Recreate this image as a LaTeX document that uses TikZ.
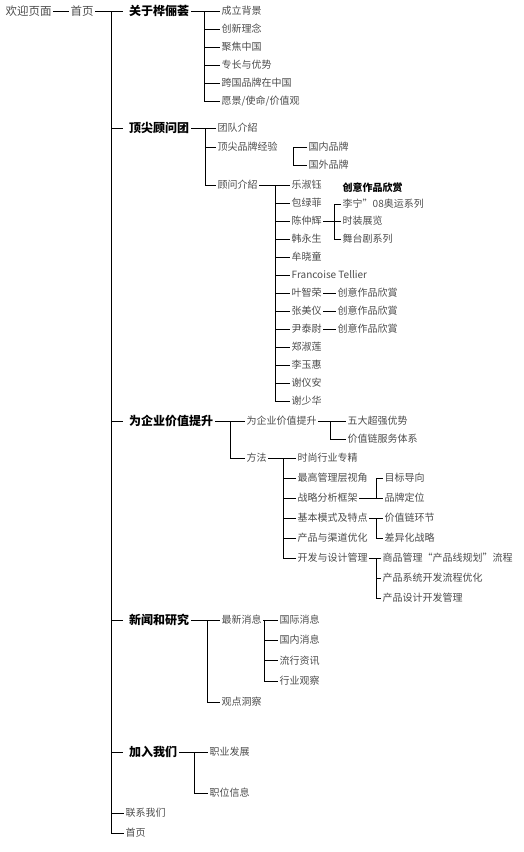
\documentclass[tikz,border=0pt]{standalone}
\usepackage{fontspec}
\setmainfont{Noto Sans CJK SC}
\begin{document}
\begin{tikzpicture}[x=1pt, y=-1pt,
    rootlbl/.style={anchor=west, inner sep=1.5pt, text=black!70, font=\fontsize{11.5}{13}\selectfont, text height=9.8pt, text depth=1.7pt},
    mainlbl/.style={anchor=west, inner xsep=2pt, inner ysep=1pt, text=black, font=\fontsize{12}{14}\selectfont\bfseries, text height=10.2pt, text depth=1.8pt},
    sublbl/.style={anchor=west, inner sep=1.5pt, text=black!70, font=\fontsize{10}{12}\selectfont, text height=8.5pt, text depth=1.5pt},
    worklbl/.style={sublbl, text=black, font=\fontsize{10}{12}\selectfont\bfseries},
    link/.style={line width=0.7pt, black},
    branch/.style={link, shorten >=4pt}
]
\useasboundingbox (0,0) rectangle (523,852);
\node[rootlbl] (welcome) at (4,11) {欢迎页面};
\node[rootlbl] (home) at (69,11) {首页};
\node[mainlbl] (about) at (127,11) {关于桦俪荟};
\node[mainlbl] (team) at (127,128) {顶尖顾问团};
\node[mainlbl] (value) at (127,421) {为企业价值提升};
\node[mainlbl] (news) at (127,620) {新闻和研究};
\node[mainlbl] (join) at (127,752) {加入我们};
\node[sublbl] (contact) at (124,813) {联系我们};
\node[sublbl] (home2) at (124,833) {首页};
\coordinate (trunk) at (111,11);
\draw[link] (welcome) -- (home);
\draw[branch] (home) -- (about);
\draw[link] (trunk) |- (home2.west);
\foreach \n in {team,value,news,join}
    \draw[branch] (trunk |- \n.west) -- (\n.west);
\draw[link] (trunk |- contact.west) -- (contact.west);

\foreach \t [count=\i from 0] in {成立背景,创新理念,聚焦中国,专长与优势,跨国品牌在中国,愿景/使命/价值观}
    \node[sublbl] (about\i) at (220,11+18*\i) {\t};
\coordinate (aboutfork) at (204,11);
\draw[link] (about) -- (about0);
\draw[link] (aboutfork) |- (about5.west);
\foreach \i in {1,...,4}
    \draw[link] (aboutfork |- about\i.west) -- (about\i.west);

\node[sublbl] (team0) at (216,128) {团队介紹};
\node[sublbl] (team1) at (216,147) {顶尖品牌经验};
\node[sublbl] (team2) at (216,185) {顾问介紹};
\coordinate (teamfork) at (205,128);
\draw[link] (team) -- (team0);
\draw[link] (teamfork) |- (team2.west);
\draw[link] (teamfork |- team1.west) -- (team1.west);

\node[sublbl] (brand0) at (307,147) {国内品牌};
\node[sublbl] (brand1) at (307,165) {国外品牌};
\coordinate (brandfork) at (293,147);
\draw[link] (brand0.west) -- (brandfork) |- (brand1.west);

\foreach \t [count=\i from 0] in {乐淑钰,包绿菲,陈仲辉,韩永生,牟晓童,Francoise Tellier,叶智荣,张美仪,尹泰尉,郑淑莲,李玉惠,谢仪安,谢少华}
    \node[sublbl] (adv\i) at (290,185+18*\i) {\t};
\coordinate (advfork) at (275,185);
\draw[link] (team2) -- (adv0);
\draw[link] (advfork) |- (adv12.west);
\foreach \i in {1,...,11}
    \draw[link] (advfork |- adv\i.west) -- (adv\i.west);

\node[worklbl] (workhead) at (341,188) {创意作品欣赏};
\node[sublbl] (works0) at (341,204) {李宁”08奥运系列};
\node[sublbl] (works1) at (341,221) {时装展览};
\node[sublbl] (works2) at (341,239) {舞台剧系列};
\coordinate (worksfork) at (334,204);
\draw[link] (works0.west) -- (worksfork) |- (works2.west);
\draw[link] (adv2) -- (works1);
\foreach \i in {6,7,8} {
    \node[sublbl] (work\i) at (336,185+18*\i) {创意作品欣賞};
    \draw[link] (adv\i) -- (work\i);
}

\node[sublbl] (val0) at (245,421) {为企业价值提升};
\node[sublbl] (val1) at (245,458) {方法};
\coordinate (valuefork) at (230,421);
\draw[link] (value) -- (val0);
\draw[link] (valuefork) |- (val1.west);

\node[sublbl] (st0) at (346,421) {五大超强优势};
\node[sublbl] (st1) at (346,439) {价值链服务体系};
\coordinate (stfork) at (330,421);
\draw[link] (val0) -- (st0);
\draw[link] (stfork) |- (st1.west);

\foreach \t [count=\i from 0] in {时尚行业专精,最高管理层视角,战略分析框架,基本模式及特点,产品与渠道优化,开发与设计管理}
    \node[sublbl] (m\i) at (296,458+20*\i) {\t};
\coordinate (mfork) at (283,458);
\draw[link] (val1) -- (m0);
\draw[link] (mfork) |- (m5.west);
\foreach \i in {1,...,4}
    \draw[link] (mfork |- m\i.west) -- (m\i.west);

\node[sublbl] (g0) at (383,478) {目标导向};
\node[sublbl] (g1) at (383,498) {品牌定位};
\coordinate (gfork) at (376,478);
\draw[link] (g0.west) -- (gfork) |- (g1.west);
\draw[link] (m2) -- (g1);

\node[sublbl] (c0) at (383,518) {价值链环节};
\node[sublbl] (c1) at (383,538) {差异化战略};
\coordinate (cfork) at (376,518);
\draw[link] (m3) -- (c0);
\draw[link] (cfork) |- (c1.west);

\node[sublbl] (p0) at (381,558) {商品管理“产品线规划”流程};
\node[sublbl] (p1) at (381,578) {产品系统开发流程优化};
\node[sublbl] (p2) at (381,598) {产品设计开发管理};
\coordinate (pfork) at (376,558);
\draw[link] (m5) -- (p0);
\draw[link] (pfork) |- (p2.west);
\draw[link] (pfork |- p1.west) -- (p1.west);

\node[sublbl] (n0) at (220,620) {最新消息};
\node[sublbl] (n1) at (220,702) {观点洞察};
\coordinate (nfork) at (207,620);
\draw[link] (news) -- (n0);
\draw[link] (nfork) |- (n1.west);

\foreach \t [count=\i from 0] in {国际消息,国内消息,流行资讯,行业观察}
    \node[sublbl] (l\i) at (278,620+20.3*\i) {\t};
\coordinate (lfork) at (264,620);
\draw[link] (n0) -- (l0);
\draw[link] (lfork) |- (l3.west);
\foreach \i in {1,2}
    \draw[link] (lfork |- l\i.west) -- (l\i.west);

\node[sublbl] (j0) at (208,752) {职业发展};
\node[sublbl] (j1) at (208,793) {职位信息};
\coordinate (jfork) at (194,752);
\draw[link] (join) -- (j0);
\draw[link] (jfork) |- (j1.west);
\end{tikzpicture}
\end{document}
